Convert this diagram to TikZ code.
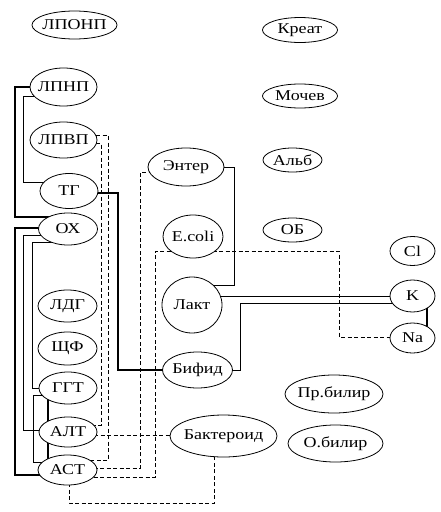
\documentclass[tikz,border=0pt]{standalone}
\usepackage{fontspec}
\setmainfont{Liberation Serif}[FakeStretch=1.2]
\usetikzlibrary{shapes.geometric,backgrounds}
\newcommand\tx[1]{\makebox[0pt]{#1}}
\begin{document}
\begin{tikzpicture}[x=1pt,y=-1pt,
  el/.style={ellipse,draw,fill=white,line width=0.8pt,inner sep=0pt,font=\fontsize{15}{15}\selectfont},
  con/.style={line width=0.9pt},
  conb/.style={line width=1.6pt},
  dsh/.style={line width=0.8pt,dash pattern=on 4pt off 2.5pt}]
\useasboundingbox (0,0) rectangle (441,512);
% left column
\node[el,minimum width=85pt,minimum height=28pt] (lponp) at (74.5,25) {\tx{ЛПОНП}};
\node[el,minimum width=67pt,minimum height=38pt] (lpnp) at (63.5,87) {\tx{ЛПНП}};
\node[el,minimum width=67pt,minimum height=36pt] (lpvp) at (63.5,140) {\tx{ЛПВП}};
\node[el,minimum width=58pt,minimum height=35pt] (tg) at (69,191) {\tx{ТГ}};
\node[el,minimum width=59pt,minimum height=32pt] (ox) at (68,229) {\tx{ОХ}};
\node[el,minimum width=59pt,minimum height=32pt] (ldg) at (67.5,306) {\tx{ЛДГ}};
\node[el,minimum width=59pt,minimum height=33pt] (shf) at (67.5,348.5) {\tx{ЩФ}};
\node[el,minimum width=58pt,minimum height=32pt] (ggt) at (68,388) {\tx{ГГТ}};
\node[el,minimum width=58pt,minimum height=30pt] (alt) at (68,432) {\tx{АЛТ}};
\node[el,minimum width=59pt,minimum height=30pt] (ast) at (67.5,470) {\tx{АСТ}};
% middle column
\node[el,minimum width=76pt,minimum height=38pt] (ent) at (186,167) {\tx{Энтер}};
\node[el,minimum width=60pt,minimum height=43pt] (ecoli) at (193,236.5) {\tx{E.coli}};
\node[el,minimum width=60pt,minimum height=56pt] (lakt) at (192,305) {\tx{Лакт}};
\node[el,minimum width=70pt,minimum height=36pt] (bif) at (197.5,370) {\tx{Бифид}};
\node[el,minimum width=107pt,minimum height=42pt] (bakt) at (223.5,436) {\tx{Бактероид}};
% right column
\node[el,minimum width=75pt,minimum height=25pt] (kreat) at (300,30) {\tx{Креат}};
\node[el,minimum width=75pt,minimum height=24pt] (mochev) at (300,96) {\tx{Мочев}};
\node[el,minimum width=59pt,minimum height=24pt] (alb) at (292.5,160) {\tx{Альб}};
\node[el,minimum width=59pt,minimum height=24pt] (ob) at (292.5,230) {\tx{ОБ}};
\node[el,minimum width=45pt,minimum height=29pt] (cl) at (412.5,251) {\tx{Cl}};
\node[el,minimum width=45pt,minimum height=32pt] (k) at (412.5,296) {\tx{K}};
\node[el,minimum width=45pt,minimum height=30pt] (na) at (412.5,338) {\tx{Na}};
\node[el,minimum width=98pt,minimum height=38pt] (prbil) at (334,394) {\tx{Пр.билир}};
\node[el,minimum width=95pt,minimum height=37pt] (obil) at (335.5,443.5) {\tx{О.билир}};
% connectors
\begin{scope}[on background layer]
\draw[conb] (lpnp.center) -- ++(-48.5,0) |- ([yshift=12pt]ox.center);
\draw[con] ([yshift=-9pt]lpnp.center) -- ++(-40.5,0) |- ([yshift=9pt]tg.center);
\draw[conb] ([yshift=-2pt]tg.center) -- ++(49,0) |- (bif.center);
\draw[conb] ([yshift=1pt]ox.center) -- ++(-53,0) |- ([yshift=-5pt]ast.center);
\draw[con] ([yshift=-6pt]ox.center) -- ++(-45,0) |- ([yshift=2pt]alt.center);
\draw[con] ([yshift=-13pt]ox.center) -- ++(-36,0) |- (ggt.center);
\draw[con] ([yshift=-7pt]ggt.center) -- ++(-35,0) |- ([yshift=8pt]ast.center);
\draw[conb] ([xshift=-20pt]ggt.center) -- ([xshift=-19.5pt]ast.center);
\draw[con] (ent.center) -- ++(48,0) |- ([yshift=20pt]lakt.center);
\draw[con] (lakt.center |- k.center) -- (k.center);
\draw[con] (bif.center) -- ++(42.5,0) |- ([yshift=-7pt]k.center);
\draw[conb] ([xshift=14.5pt]k.center) -- ([xshift=14.5pt]na.center);
\draw[dsh] ([yshift=5pt]lpvp.center) -- ++(44.5,0) |- ([yshift=10pt]ast.center);
\draw[dsh] ([yshift=-3pt]lpvp.center) -- ++(37.5,0) |- ([yshift=7pt]alt.center);
\draw[dsh] ([yshift=-3pt]alt.center) -- ([yshift=1pt]bakt.center);
\draw[dsh] ([yshift=2pt]ast.center) -- ++(72.5,0) |- ([yshift=-5pt]ent.center);
\draw[dsh] ([yshift=-7pt]ast.center) -- ++(87.5,0) |- ([yshift=-14.5pt]ecoli.center);
\draw[dsh] ([yshift=-14.5pt]ecoli.center) -- ++(146,0) |- ([yshift=1pt]na.center);
\draw[dsh] ([xshift=1.5pt]ast.center) -- ++(0,33) -| ([xshift=-9.5pt]bakt.center);
\end{scope}
\end{tikzpicture}
\end{document}
